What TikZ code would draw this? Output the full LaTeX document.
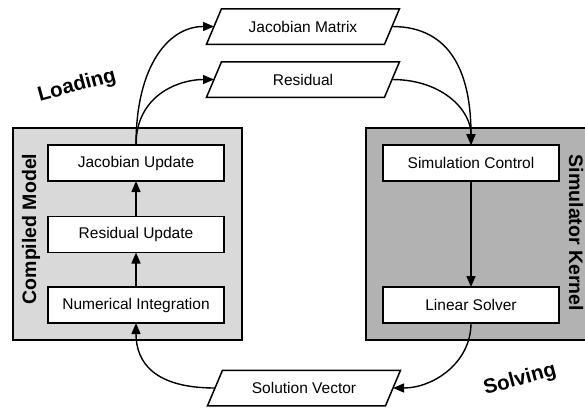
\documentclass[tikz,border=0pt]{standalone}
\usepackage{fontspec}
\setmainfont{Liberation Sans}
\usetikzlibrary{arrows.meta}
\begin{document}
\begin{tikzpicture}[x=1pt,y=-1pt,
  every node/.style={inner sep=0pt, outer sep=0pt},
  stage/.style={draw=black, line width=1.5pt, fill=white,
    minimum width=176pt, minimum height=36pt,
    font=\fontsize{15.5}{18}\selectfont},
  datum/.style={minimum width=178pt, minimum height=35.5pt,
    font=\fontsize{15.5}{18}\selectfont},
  slanted/.style={draw=black, line width=1.5pt, fill=white, line join=miter},
  flow/.style={line width=1.4pt, -{Triangle[length=11pt,width=9pt]}},
  grouptitle/.style={font=\bfseries\fontsize{19.5}{22}\selectfont},
  phase/.style={font=\bfseries\fontsize{20.5}{24}\selectfont, rotate=15},
]
\useasboundingbox (0,0) rectangle (585,407);

% containers
\node[draw=black, line width=1.5pt, fill=black!15,
  minimum width=229pt, minimum height=212pt] (model) at (127.5,234) {};
\node[fill=black!30, minimum width=222pt, minimum height=212pt] (kernel) at (477,234) {};
\draw[line width=1.5pt] (kernel.north east) -- (kernel.north west)
  -- (kernel.south west) -- (kernel.south east);

\node[grouptitle, rotate=90] (modeltitle) at (31,229) {Compiled Model};
\node[grouptitle, rotate=-90] (kerneltitle) at (576,233) {Simulator Kernel};

% stages of the compiled model
\node[stage] (jacupd) at (136,163) {Jacobian Update};
\node[stage] (resupd) at (136,234.5) {Residual Update};
\node[stage] (numint) at (136,305) {Numerical Integration};

% stages of the simulator kernel
\node[stage] (simctl) at (471,163) {Simulation Control};
\node[stage] (linsol) at (471,305) {Linear Solver};

% exchanged data
\node[datum] (jacmat) at (303,26.5) {};
\node[datum] (resid)  at (303,79.5) {};
\node[datum] (solvec) at (304,388) {};
\foreach \d/\t in {jacmat/Jacobian Matrix, resid/Residual, solvec/Solution Vector}{
  \draw[slanted] ([xshift=-7.5pt]\d.south west) -- ([xshift=7.5pt]\d.north west)
    -- ([xshift=7.5pt]\d.north east) -- ([xshift=-7.5pt]\d.south east) -- cycle;
  \node[font=\fontsize{15.5}{18}\selectfont] at (\d) {\t};
}

% phase labels
\node[phase] (loading) at (77,86) {Loading};
\node[phase] (solving) at (520,380) {Solving};

% connectors
\draw[flow] (numint.north) -- (resupd.south);
\draw[flow] (resupd.north) -- (jacupd.south);
\draw[flow] (jacupd.north) .. controls +(0,-80) and +(-45,0) .. (jacmat.west);
\draw[flow] (jacupd.north) .. controls +(0,-50) and +(-35,0) .. (resid.west);
\draw[flow] (jacmat.east) .. controls +(60,0) and +(0,-70) .. (simctl.north);
\draw[flow] (resid.east) .. controls +(50,0) and +(0,-35) .. (simctl.north);
\draw[flow] (simctl.south) -- (linsol.north);
\draw[flow] (linsol.south) .. controls +(0,40) and +(40,0) .. (solvec.east);
\draw[flow] (solvec.west) .. controls +(-60,0) and +(0,40) .. (numint.south);
\end{tikzpicture}
\end{document}
